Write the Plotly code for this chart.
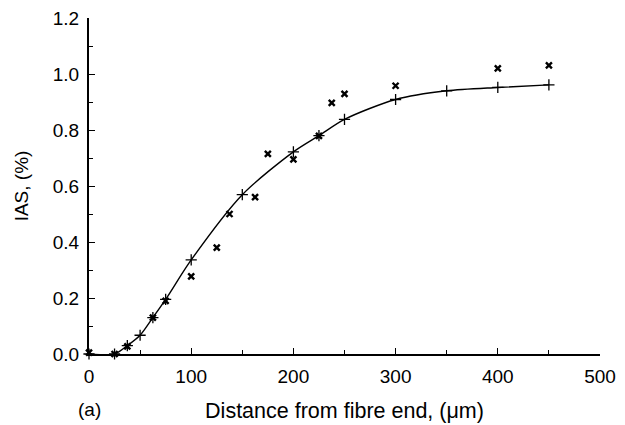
import plotly.graph_objects as go

# Model (+) series with fitted curve
model_x = [0, 25, 37.5, 50, 62.5, 75, 100, 150, 200, 225, 250, 300, 350, 400, 450]
model_y = [0.0, 0.0, 0.03, 0.067, 0.13, 0.195, 0.336, 0.569, 0.722, 0.78, 0.838, 0.909, 0.94, 0.952, 0.961]

# Measured (x) series
meas_x = [0, 25, 37.5, 62.5, 75, 100, 125, 137.5, 162.5, 175, 200, 225, 237.5, 250, 300, 400, 450]
meas_y = [0.005, 0.0, 0.027, 0.13, 0.19, 0.277, 0.38, 0.50, 0.56, 0.715, 0.695, 0.779, 0.897, 0.929, 0.958, 1.02, 1.031]

x_ticks = [0, 100, 200, 300, 400, 500]
y_ticks = [0.0, 0.2, 0.4, 0.6, 0.8, 1.0, 1.2]
y_tick_text = ["0.0", "0.2", "0.4", "0.6", "0.8", "1.0", "1.2"]

FONT = "Liberation Sans, Arial, sans-serif"

fig = go.Figure()
fig.add_trace(go.Scatter(
    x=model_x, y=model_y, mode="lines+markers",
    line=dict(color="black", width=1.4, shape="spline", smoothing=0.8),
    marker=dict(symbol="cross-thin", size=8, line=dict(color="black", width=1.3)),
    cliponaxis=False, showlegend=False))
fig.add_trace(go.Scatter(
    x=meas_x, y=meas_y, mode="markers",
    marker=dict(symbol="x-thin", size=6, line=dict(color="black", width=2.4)),
    cliponaxis=False, showlegend=False))

# page body has an 8px margin, so the figure's origin sits at (8, 8)
fig.update_layout(
    width=625, height=425,
    margin=dict(l=81, r=33, t=10, b=78.5),
    paper_bgcolor="white", plot_bgcolor="white",
    font=dict(family=FONT, size=19, color="black"),
    xaxis=dict(range=[0, 500], tickvals=x_ticks, ticks="inside", ticklen=6, tickwidth=1.3,
               tickcolor="black", showline=True, linecolor="black", linewidth=2,
               showgrid=False, zeroline=False, automargin=False, ticklabelstandoff=4,
               ticklabeloverflow="allow",
               minor=dict(dtick=50, tick0=0, ticks="inside", ticklen=4, tickcolor="black", showgrid=False),
               title=dict(text="Distance from fibre end, (\u03bcm)", standoff=17, font=dict(size=21.5)),
               tickfont=dict(size=19)),
    yaxis=dict(range=[0, 1.2], tickvals=y_ticks, ticktext=y_tick_text, ticks="inside", ticklen=6,
               tickwidth=1.3, tickcolor="black", showline=True, linecolor="black", linewidth=2,
               showgrid=False, zeroline=False, automargin=False, ticklabelstandoff=4,
               ticklabeloverflow="allow",
               minor=dict(dtick=0.1, tick0=0, ticks="inside", ticklen=4, tickcolor="black", showgrid=False),
               title=dict(text="IAS, (%)", standoff=19, font=dict(size=19)),
               tickfont=dict(size=19)),
    annotations=[dict(text="(a)", x=0, xref="x", y=-0.165, yref="paper", xanchor="center",
                      yanchor="middle", showarrow=False, font=dict(size=19))],
)

fig.write_html("out.html")
